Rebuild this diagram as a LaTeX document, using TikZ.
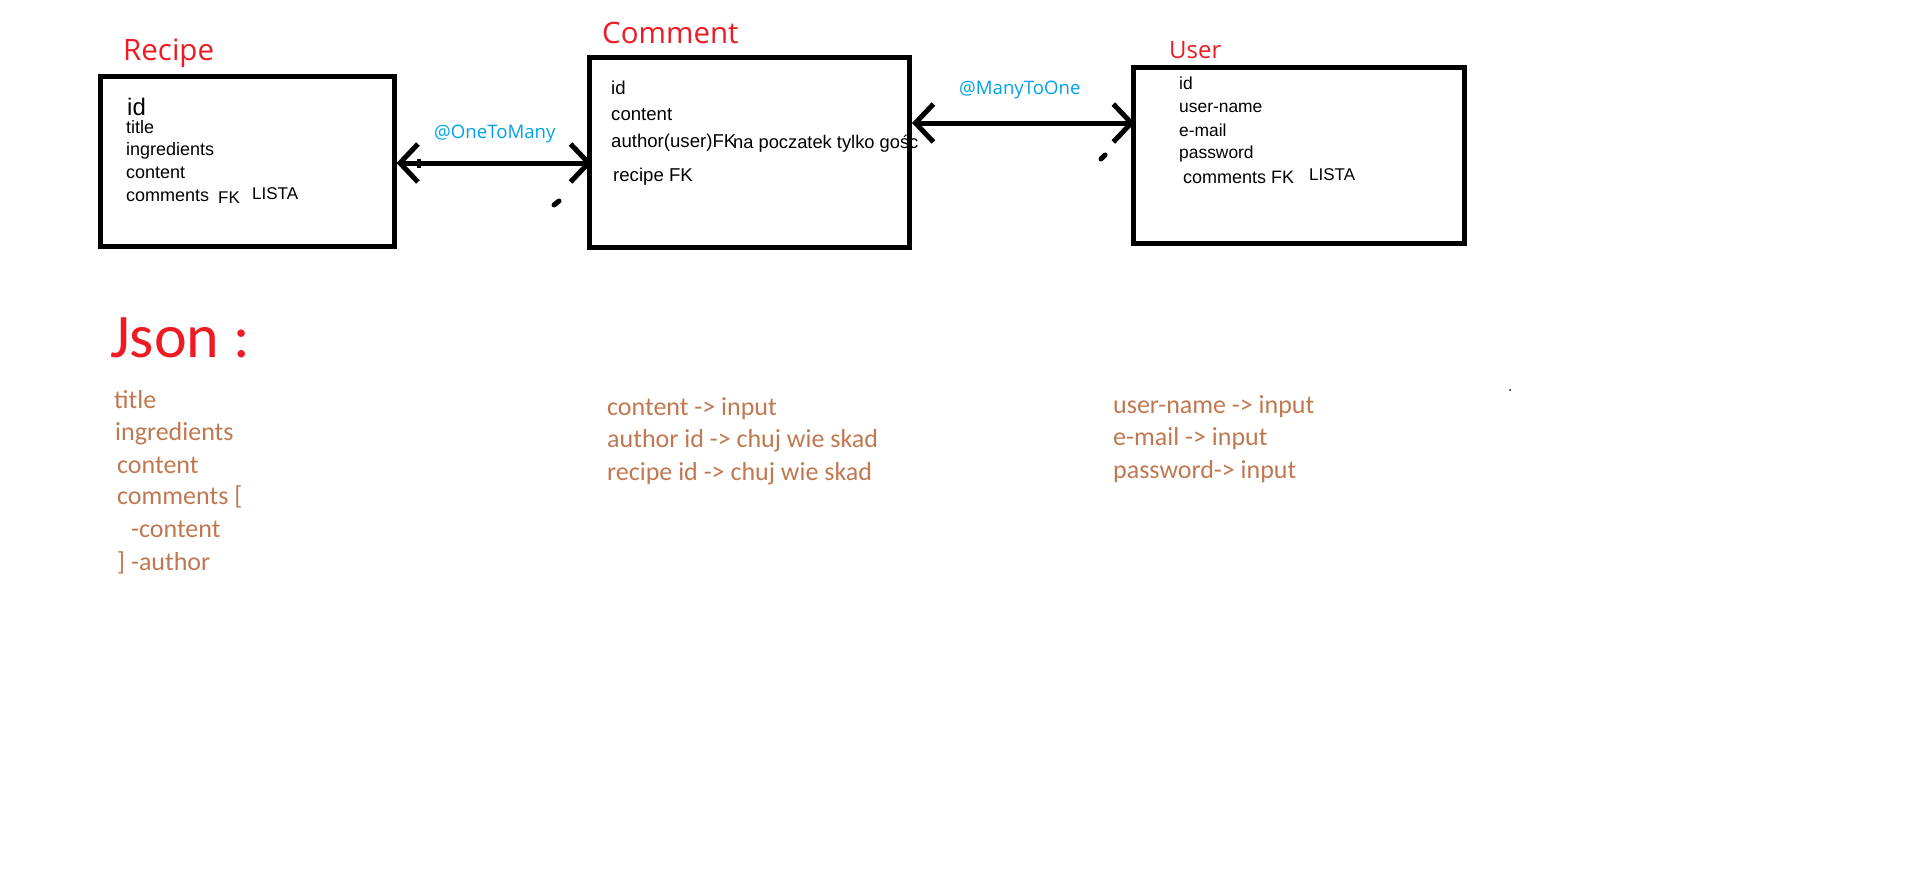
\documentclass[tikz,border=0pt]{standalone}
\usepackage{fontspec}
\setmainfont{Liberation Sans}
\newfontfamily\hdfont{Open Sans}
\newfontfamily\jsfont{Carlito}
\usetikzlibrary{arrows.meta}
\definecolor{paintred}{RGB}{237,28,36}
\definecolor{paintblue}{RGB}{0,162,232}
\definecolor{jsonbrown}{RGB}{192,120,80}
\tikzset{
  entity/.style={draw,rectangle,line width=5pt,inner sep=0pt},
  fld/.style={anchor=base west,inner sep=0pt,font=\fontsize{18}{20}\selectfont},
  ttl/.style={anchor=base west,inner sep=0pt,text=paintred,font=\hdfont\fontsize{29.5}{33}\selectfont},
  rlbl/.style={anchor=base west,inner sep=0pt,text=paintblue,font=\hdfont\fontsize{18.6}{21}\selectfont},
  rel/.style={{Straight Barb[length=18pt,width=38pt]}-{Straight Barb[length=18pt,width=38pt]},line width=5pt},
  jsn/.style={anchor=base west,inner sep=0pt,text=jsonbrown,font=\jsfont\fontsize{26}{30}\selectfont},
  tick/.style={fill,rectangle,inner sep=0pt,minimum width=4pt,minimum height=9pt},
  blot/.style={line width=5pt,line cap=round}
}

\begin{document}
\begin{tikzpicture}[x=1pt,y=-1pt]
  \useasboundingbox (0,0) rectangle (1913,870);
  % Entity boxes
  \node[entity,minimum width=294pt,minimum height=170pt] (rec) at (247,161) {};
  \node[entity,minimum width=320pt,minimum height=190pt] (com) at (749.5,152.5) {};
  \node[entity,minimum width=331.5pt,minimum height=176pt] (usr) at (1299,155) {};

  \node[ttl] (rec-t) at (123,60) {Recipe};
  \node[ttl] (com-t) at (602,43) {Comment};
  \node[ttl,font=\hdfont\fontsize{24}{27}\selectfont] (usr-t) at (1169,58) {User};

  % Recipe fields
  \node[fld,font=\fontsize{24}{26}\selectfont] (r0) at (127,115) {id};
  \foreach \f/\y [count=\i] in {title/133,ingredients/155,content/178,comments/201}
    \node[fld] (r\i) at (126,\y) {\f};
  \node[fld,font=\fontsize{17}{19}\selectfont] (r-fk) at (218,203) {FK};
  \node[fld,font=\fontsize{17}{19}\selectfont] (r-lista) at (252,199) {LISTA};

  % Comment fields
  \foreach \f/\y [count=\i] in {id/94,content/120,author(user)FK/147}
    \node[fld,font=\fontsize{18.6}{21}\selectfont] (c\i) at (611,\y) {\f};
  \node[fld,font=\fontsize{18.3}{21}\selectfont] (c-note) at (733,148) {na poczatek tylko gośc};
  \node[fld,font=\fontsize{18.6}{21}\selectfont] (c4) at (613,181) {recipe FK};

  % User fields
  \foreach \f/\y [count=\i] in {id/89,user-name/112,e-mail/136,password/158}
    \node[fld,font=\fontsize{17.4}{20}\selectfont] (u\i) at (1179,\y) {\f};
  \node[fld] (u5) at (1183,183) {comments FK};
  \node[fld,font=\fontsize{17}{19}\selectfont] (u-lista) at (1309,180) {LISTA};

  % Relations
  \draw[rel,shorten >=-5pt] ([yshift=-2pt]rec.east) -- ([yshift=-2pt]rec.east -| com.west)
    node[tick,pos=0.12] (rec-tick) {};
  \draw[rel,shorten >=-4pt] ([yshift=29.5pt]com.east) -- ([yshift=29.5pt]com.east -| usr.west);
  \node[rlbl] (l1) at (434,138) {@OneToMany};
  \node[rlbl] (l2) at (959,94) {@ManyToOne};
  \draw[blot] (554,205) -- (559,201);
  \draw[blot] (1101,159) -- (1105,155);

  % Json
  \node[ttl,font=\jsfont\fontsize{62}{66}\selectfont] (json) at (110,357) {Json :};
  \node[jsn] (j1) at (114,408) {title};
  \node[jsn] (j2) at (115,440) {ingredients};
  \node[jsn] (j3) at (117,473) {content};
  \node[jsn] (j4) at (117,504) {comments [};
  \node[jsn] (j5) at (131,537) {-content};
  \node[jsn] (j6) at (117,570) {] -author};

  \foreach \t/\y [count=\i] in {content -> input/415,author id -> chuj wie skad/447,recipe id -> chuj wie skad/480}
    \node[jsn] (m\i) at (607,\y) {\t};
  \foreach \t/\y [count=\i] in {user-name -> input/413,e-mail -> input/445,password-> input/478}
    \node[jsn] (s\i) at (1113,\y) {\t};
  \fill (1510,390) circle (1pt);
\end{tikzpicture}
\end{document}
